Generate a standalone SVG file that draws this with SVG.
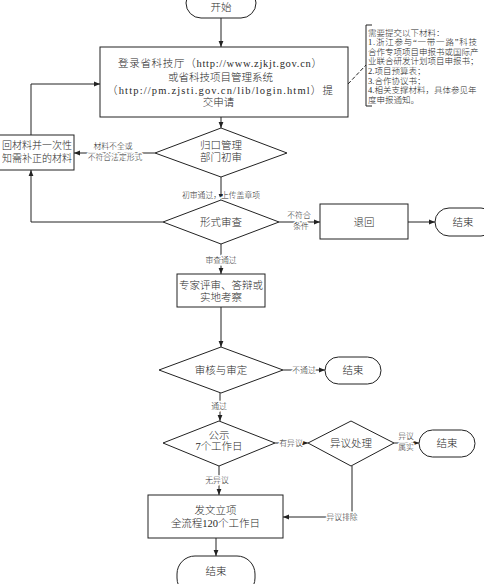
<svg xmlns="http://www.w3.org/2000/svg" width="484" height="584" viewBox="0 0 484 584">
<style>
.n{fill:#fff;stroke:#222;stroke-width:1}
.c{fill:none;stroke:#222;stroke-width:1}
.d{fill:none;stroke:#222;stroke-width:1;stroke-dasharray:4 2}
text{font-family:"Liberation Serif","Noto Sans CJK SC",serif;fill:#2a2a2a;font-weight:300}
.t{font-size:10.5px;text-anchor:middle}
.l{font-size:7.8px;text-anchor:middle;paint-order:stroke;stroke:#fff;stroke-width:3px;stroke-linejoin:round}
.m{font-size:8.5px}
</style>
<defs>
<marker id="a" viewBox="0 0 10 10" refX="10" refY="5" markerWidth="6" markerHeight="6" orient="auto" markerUnits="userSpaceOnUse"><path d="M0,1 L10,5 L0,9 z" fill="#222"/></marker>
</defs>
<rect width="484" height="584" fill="#fff"/>
<g id="connectors">
<path class="c" d="M221,18 V47" marker-end="url(#a)"/>
<path class="d" d="M348,84 L366,65"/>
<path class="c" d="M221,117 V128" marker-end="url(#a)"/>
<path class="c" d="M155,153 H74" marker-end="url(#a)"/>
<path class="c" d="M31,135 V84 H100" marker-end="url(#a)"/>
<path class="c" d="M221,177 V200" marker-end="url(#a)"/>
<path class="c" d="M163,222 H31 V170" marker-end="url(#a)"/>
<path class="c" d="M279,222 H320" marker-end="url(#a)"/>
<path class="c" d="M408,222 H435" marker-end="url(#a)"/>
<path class="c" d="M221,244 V274" marker-end="url(#a)"/>
<path class="c" d="M221,307 V347" marker-end="url(#a)"/>
<path class="c" d="M283,370 H325" marker-end="url(#a)"/>
<path class="c" d="M220,393 V421" marker-end="url(#a)"/>
<path class="c" d="M275,443 H308" marker-end="url(#a)"/>
<path class="c" d="M394,443 H419" marker-end="url(#a)"/>
<path class="c" d="M352,466 V517 H283" marker-end="url(#a)"/>
<path class="c" d="M219,466 V495" marker-end="url(#a)"/>
<path class="c" d="M216,538 V556" marker-end="url(#a)"/>
<text class="l" x="113" y="149">材料不全或</text>
<text class="l" x="115" y="160">不符合法定形式</text>
<text class="l" x="221" y="198">初审通过，上传盖章项</text>
<text class="l" x="299" y="218">不符合</text>
<text class="l" x="301" y="229">条件</text>
<text class="l" x="221" y="263">审查通过</text>
<text class="l" x="304" y="373">不通过</text>
<text class="l" x="219" y="409">通过</text>
<text class="l" x="291" y="446">有异议</text>
<text class="l" x="406" y="439">异议</text>
<text class="l" x="406" y="450">属实</text>
<text class="l" x="217" y="483">无异议</text>
<text class="l" x="342" y="520">异议排除</text>
</g>
<g id="start">
<rect class="n" x="186" y="-12" width="70" height="30" rx="15"/>
<text class="t" x="221" y="11">开始</text>
</g>
<g id="submit">
<rect class="n" x="100" y="47" width="248" height="70"/>
<text class="t" x="220" y="67" textLength="204" lengthAdjust="spacing">登录省科技厅（http://www.zjkjt.gov.cn）</text>
<text class="t" x="220.5" y="81">或省科技项目管理系统</text>
<text class="t" x="220" y="93.5" textLength="226" lengthAdjust="spacing">（http://pm.zjsti.gov.cn/lib/login.html）提</text>
<text class="t" x="218.5" y="105.5">交申请</text>
</g>
<g id="note">
<path class="c" d="M372,25 H366 V106 H372"/>
<text class="m" x="368" y="35.5">需要提交以下材料：</text>
<text class="m" x="368" y="45.1" textLength="109" lengthAdjust="spacing">1.浙江参与“一带一路”科技</text>
<text class="m" x="368" y="54.7">合作专项项目申报书或国际产</text>
<text class="m" x="368" y="64.3">业联合研发计划项目申报书；</text>
<text class="m" x="368" y="73.9">2.项目预算表；</text>
<text class="m" x="368" y="83.5">3.合作协议书；</text>
<text class="m" x="368" y="93.1">4.相关支撑材料，具体参见年</text>
<text class="m" x="368" y="102.7">度申报通知。</text>
</g>
<g id="review1">
<polygon class="n" points="221,128 287,153 221,177 155,153"/>
<text class="t" x="221" y="149">归口管理</text>
<text class="t" x="221" y="161">部门初审</text>
</g>
<g id="returnMaterials">
<rect class="n" x="-10" y="135" width="84" height="35"/>
<text x="2" y="149" style="font-size:10px" textLength="70" lengthAdjust="spacing">回材料并一次性</text>
<text x="2" y="161.5" style="font-size:10px" textLength="70" lengthAdjust="spacing">知需补正的材料</text>
</g>
<g id="formalCheck">
<polygon class="n" points="221,200 279,222 221,244 163,222"/>
<text class="t" x="221" y="226">形式审查</text>
</g>
<g id="reject">
<rect class="n" x="320" y="204" width="88" height="35"/>
<text class="t" x="364" y="226">退回</text>
</g>
<g id="end1">
<rect class="n" x="435" y="208" width="60" height="28" rx="14"/>
<text class="t" x="463" y="226">结束</text>
</g>
<g id="expert">
<rect class="n" x="177" y="274" width="88" height="33"/>
<text class="t" x="221" y="288.7">专家评审、答辩或</text>
<text class="t" x="221" y="300.7">实地考察</text>
</g>
<g id="approve">
<polygon class="n" points="221,347 283,370 221,393 159,370"/>
<text class="t" x="221" y="374">审核与审定</text>
</g>
<g id="end2">
<rect class="n" x="325" y="357" width="56" height="27" rx="13.5"/>
<text class="t" x="353" y="374">结束</text>
</g>
<g id="publicity">
<polygon class="n" points="219,421 275,443 219,466 163,443"/>
<text class="t" x="219" y="438.7">公示</text>
<text class="t" x="219" y="449.7">7个工作日</text>
</g>
<g id="objection">
<polygon class="n" points="351,421 394,443 351,466 308,443"/>
<text class="t" x="351" y="447">异议处理</text>
</g>
<g id="end3">
<rect class="n" x="419" y="430" width="56" height="27" rx="13.5"/>
<text class="t" x="447" y="447">结束</text>
</g>
<g id="issue">
<rect class="n" x="148" y="495" width="135" height="43"/>
<text class="t" x="215.5" y="514.4">发文立项</text>
<text class="t" x="215.5" y="526.6">全流程120个工作日</text>
</g>
<g id="end4">
<rect class="n" x="177" y="556" width="78" height="40" rx="18"/>
<text class="t" x="216" y="574.5">结束</text>
</g>
</svg>
